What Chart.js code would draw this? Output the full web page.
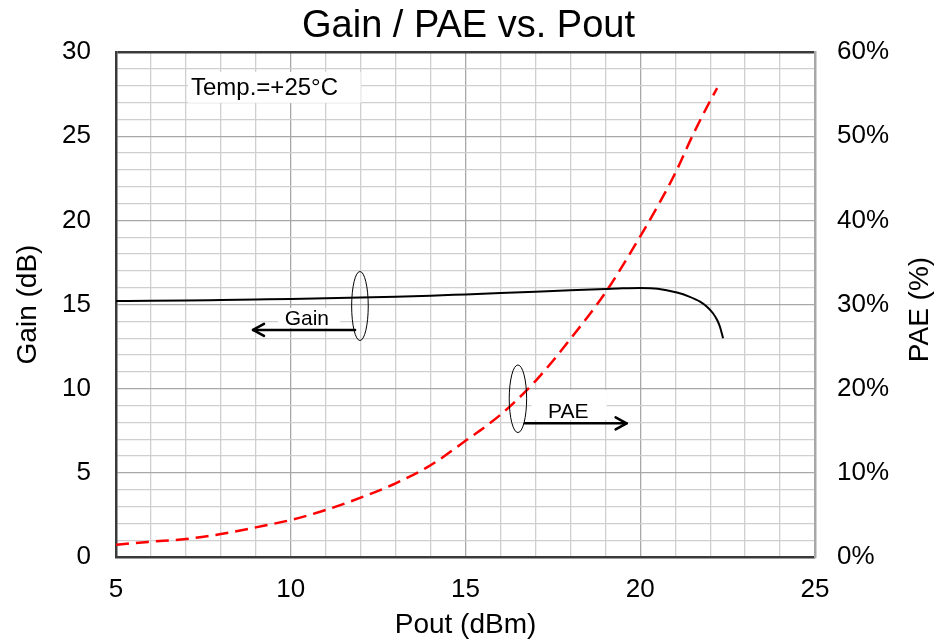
<!DOCTYPE html>
<html>
<head>
<meta charset="utf-8">
<script src="https://cdn.jsdelivr.net/npm/chart.js@4/dist/chart.umd.min.js"></script>
<style>
  html, body { margin: 0; padding: 0; background: #ffffff; }
  #wrap { width: 937px; height: 640px; }
</style>
</head>
<body>
<div id="wrap"><canvas id="c" width="937" height="640"></canvas></div>
<script>
// ---- data ----
const gainPout = [5, 6, 7, 8, 9, 10, 11, 12, 13, 14, 15, 16, 17, 18, 19, 19.5, 20, 20.5, 21.05, 21.4, 21.71, 21.9, 22.08, 22.2, 22.28, 22.37];
const gainDb   = [15.21, 15.22, 15.24, 15.27, 15.30, 15.33, 15.37, 15.41, 15.46, 15.52, 15.60, 15.68, 15.76, 15.84, 15.92, 15.96, 15.98, 15.94, 15.71, 15.47, 15.17, 14.88, 14.48, 14.08, 13.68, 13.0];

const paePout = [5, 5.5, 6, 7, 8, 9, 10, 11, 12, 13, 14, 15, 16, 17, 18, 19, 20, 20.5, 21, 21.5, 22, 22.2];
const paePct  = [1.45, 1.65, 1.82, 2.14, 2.73, 3.52, 4.40, 5.58, 7.05, 8.75, 10.9, 13.8, 16.9, 20.9, 25.9, 31.4, 38.1, 41.7, 45.6, 50.1, 54.2, 55.7];

const xTickLabels = [5, 10, 15, 20, 25];
const gainTickLabels = [0, 5, 10, 15, 20, 25, 30];
const paeTickLabels = [0, 10, 20, 30, 40, 50, 60];

const titleText = 'Gain / PAE vs. Pout';
const xTitle = 'Pout (dBm)';
const yTitle = 'Gain (dB)';
const y2Title = 'PAE (%)';
const tempText = 'Temp.=+25°C';

// ---- build ----
const FONT = "'Liberation Sans', Arial, sans-serif";
const toXY = (xs, ys) => xs.map((x, i) => ({ x: x, y: ys[i] }));

const minorGrid = '#cfcfcf';
const majorGrid = '#a8a8a8';

const annotations = {
  id: 'annotations',
  beforeDatasetsDraw(chart) {
    const { ctx, scales: { x, y, y2 } } = chart;
    ctx.save();
    // Temperature box
    const tx0 = x.getPixelForValue(7.06), tx1 = x.getPixelForValue(12.0);
    const ty0 = y.getPixelForValue(28.82), ty1 = y.getPixelForValue(26.98);
    ctx.fillStyle = '#ffffff';
    ctx.fillRect(tx0, ty0, tx1 - tx0, ty1 - ty0);
    ctx.fillStyle = '#000000';
    ctx.font = '24px ' + FONT;
    ctx.textAlign = 'left';
    ctx.textBaseline = 'middle';
    ctx.fillText(tempText, tx0 + 3, (ty0 + ty1) / 2 + 1);

    // Gain label box
    const gx0 = x.getPixelForValue(9.64), gx1 = x.getPixelForValue(11.41);
    const gy0 = y.getPixelForValue(14.8), gy1 = y.getPixelForValue(13.6);
    ctx.fillStyle = '#ffffff';
    ctx.fillRect(gx0, gy0, gx1 - gx0, gy1 - gy0);
    ctx.fillStyle = '#000000';
    ctx.font = '21px ' + FONT;
    ctx.textAlign = 'center';
    ctx.fillText('Gain', x.getPixelForValue(10.46), y.getPixelForValue(14.14));

    // PAE label box
    const px0 = x.getPixelForValue(16.89), px1 = x.getPixelForValue(19.04);
    const py0 = y2.getPixelForValue(19.84), py1 = y2.getPixelForValue(16.28);
    ctx.fillStyle = '#ffffff';
    ctx.fillRect(px0, py0, px1 - px0, py1 - py0);
    ctx.fillStyle = '#000000';
    ctx.fillText('PAE', x.getPixelForValue(17.94), y2.getPixelForValue(17.26));
    ctx.restore();
  },
  afterDraw(chart) {
    const { ctx, scales: { x, y, y2 } } = chart;
    ctx.save();
    ctx.strokeStyle = '#000000';
    // ellipses
    ctx.lineWidth = 1;
    ctx.beginPath();
    ctx.ellipse(x.getPixelForValue(11.98), y.getPixelForValue(14.91), 8.3, 34.5, 0, 0, Math.PI * 2);
    ctx.stroke();
    ctx.beginPath();
    ctx.ellipse(x.getPixelForValue(16.50), y2.getPixelForValue(18.8), 8.7, 33.8, 0, 0, Math.PI * 2);
    ctx.stroke();

    // arrows
    ctx.lineWidth = 2.5;
    ctx.lineCap = 'round';
    ctx.lineJoin = 'round';
    const arrow = (xa, xb, yy) => {
      ctx.beginPath();
      ctx.moveTo(xa, yy);
      ctx.lineTo(xb, yy);
      ctx.stroke();
      const d = xb > xa ? -1 : 1;
      ctx.beginPath();
      ctx.moveTo(xb + d * 11, yy - 6);
      ctx.lineTo(xb, yy);
      ctx.lineTo(xb + d * 11, yy + 6);
      ctx.stroke();
    };
    arrow(x.getPixelForValue(11.84), x.getPixelForValue(8.92), y.getPixelForValue(13.49));
    arrow(x.getPixelForValue(16.70), x.getPixelForValue(19.61), y2.getPixelForValue(15.88));

    // right axis title (reads bottom-to-top like the left one)
    const ca = chart.chartArea;
    ctx.translate(920, (ca.top + ca.bottom) / 2 + 5);
    ctx.rotate(-Math.PI / 2);
    ctx.fillStyle = '#000000';
    ctx.font = '28px ' + FONT;
    ctx.textAlign = 'center';
    ctx.textBaseline = 'middle';
    ctx.fillText(y2Title, 0, 0);
    ctx.restore();
  }
};

new Chart(document.getElementById('c'), {
  type: 'scatter',
  data: {
    datasets: [
      {
        label: 'Gain',
        data: toXY(gainPout, gainDb),
        yAxisID: 'y',
        showLine: true,
        borderColor: '#000000',
        borderWidth: 2,
        pointRadius: 0,
        cubicInterpolationMode: 'monotone',
        fill: false
      },
      {
        label: 'PAE',
        data: toXY(paePout, paePct),
        yAxisID: 'y2',
        showLine: true,
        borderColor: '#ff0000',
        borderWidth: 2.5,
        borderDash: [13, 7],
        pointRadius: 0,
        cubicInterpolationMode: 'monotone',
        fill: false
      }
    ]
  },
  options: {
    responsive: false,
    animation: false,
    devicePixelRatio: 1,
    layout: { padding: { left: 0, right: 0, top: 0, bottom: 0 } },
    plugins: {
      legend: { display: false },
      tooltip: { enabled: false },
      title: {
        display: true,
        text: titleText,
        color: '#000000',
        font: { family: FONT, size: 38, weight: 'normal', lineHeight: 1.0 },
        padding: { top: 8, bottom: 6 }
      }
    },
    scales: {
      x: {
        type: 'linear',
        position: 'bottom',
        min: 5, max: 25,
        afterFit: s => { s.height = 83; },
        ticks: {
          stepSize: 1,
          autoSkip: false,
          maxRotation: 0,
          padding: 17,
          color: '#000000',
          font: { family: FONT, size: 26 },
          callback: v => xTickLabels.includes(v) ? String(v) : ''
        },
        grid: {
          drawTicks: false,
          lineWidth: 1.3,
          color: c => (c.tick && c.tick.value % 5 === 0) ? majorGrid : minorGrid
        },
        border: { display: true, color: '#3a3a3a', width: 2.5 },
        title: {
          display: true,
          text: xTitle,
          color: '#000000',
          font: { family: FONT, size: 28, lineHeight: 1.0 },
          padding: { top: 0, bottom: 1 }
        }
      },
      y: {
        type: 'linear',
        position: 'left',
        min: 0, max: 30,
        afterFit: s => { s.width = 116; },
        ticks: {
          stepSize: 1,
          autoSkip: false,
          padding: 25,
          color: '#000000',
          font: { family: FONT, size: 26 },
          callback: v => gainTickLabels.includes(v) ? String(v) : ''
        },
        grid: {
          drawTicks: false,
          lineWidth: c => (c.tick && c.tick.value === 30) ? 2.5 : 1.3,
          color: c => {
            if (!c.tick) return minorGrid;
            if (c.tick.value === 30) return '#3a3a3a';
            return c.tick.value % 5 === 0 ? majorGrid : minorGrid;
          }
        },
        border: { display: true, color: '#3a3a3a', width: 2.5 },
        title: {
          display: true,
          text: yTitle,
          color: '#000000',
          font: { family: FONT, size: 28 },
          padding: { top: 11, bottom: 0 }
        }
      },
      y2: {
        type: 'linear',
        position: 'right',
        min: 0, max: 60,
        afterFit: s => { s.width = 122; },
        ticks: {
          stepSize: 10,
          autoSkip: false,
          padding: 22,
          color: '#000000',
          font: { family: FONT, size: 26 },
          callback: v => paeTickLabels.includes(v) ? v + '%' : ''
        },
        grid: { drawOnChartArea: false, drawTicks: false },
        border: { display: true, color: '#a8a8a8', width: 2.5 }
      }
    }
  },
  plugins: [annotations]
});
</script>
</body>
</html>
